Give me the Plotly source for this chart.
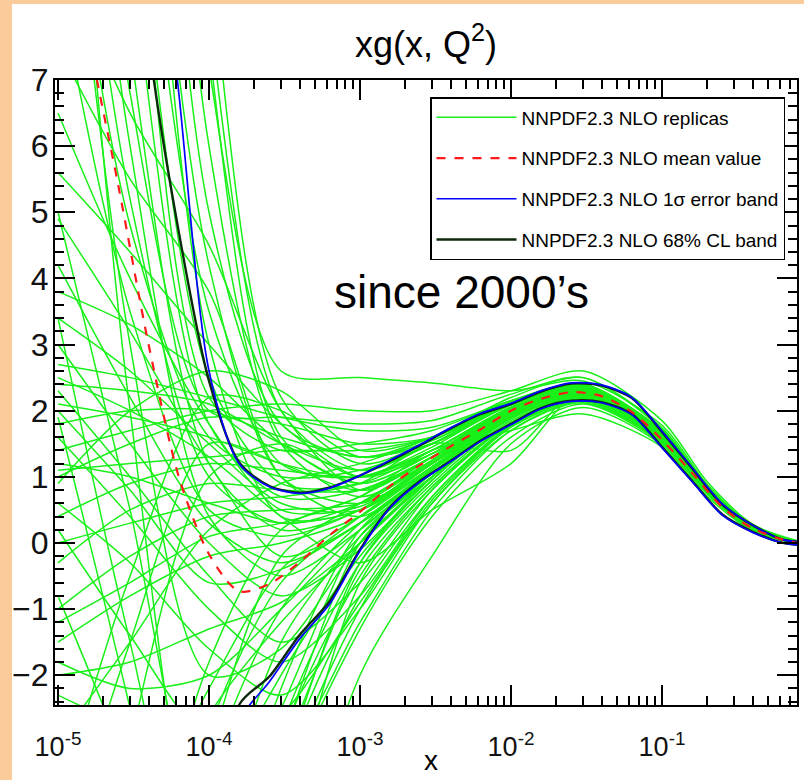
import plotly.graph_objects as go

# ---------------- data ----------------
# x grid for central curves
x_grid = [1.0e-5, 1.58e-5, 2.51e-5, 3.98e-5, 6.31e-5, 1.0e-4, 1.58e-4, 2.51e-4, 3.98e-4, 6.31e-4,
          1.0e-3, 1.58e-3, 2.51e-3, 3.98e-3, 6.31e-3, 1.0e-2, 1.58e-2, 2.51e-2, 3.98e-2, 6.31e-2,
          0.1, 0.158, 0.251, 0.398, 0.631, 0.794]

mean_value = [10.5, 7.7, 5.4, 3.0, 1.0, -0.17, -0.73, -0.62, -0.29, 0.12,
              0.47, 0.86, 1.18, 1.46, 1.72, 2.0, 2.18, 2.28, 2.22, 1.98,
              1.56, 1.06, 0.54, 0.22, 0.05, 0.0]

cl68_upper = [30, 20, 13, 7.6, 4.7, 2.45, 1.22, 0.86, 0.76, 0.84,
              1.02, 1.24, 1.48, 1.73, 1.95, 2.10, 2.29, 2.41, 2.38, 2.19,
              1.68, 1.13, 0.58, 0.27, 0.05, 0.02]
cl68_lower = [-30, -24, -19, -14, -9.5, -5.0, -2.45, -2.02, -1.39, -0.88,
              -0.1, 0.54, 0.94, 1.24, 1.55, 1.80, 2.04, 2.15, 2.13, 1.95,
              1.45, 0.94, 0.43, 0.17, 0.0, -0.03]

sigma_upper = [40, 28, 18, 11, 6.8, 2.6, 1.2, 0.85, 0.75, 0.83,
               1.02, 1.25, 1.49, 1.74, 1.96, 2.11, 2.30, 2.42, 2.39, 2.20,
               1.69, 1.14, 0.59, 0.27, 0.05, 0.02]
sigma_lower = [-32, -26, -20, -15, -10, -5.5, -2.7, -2.1, -1.45, -0.92,
               -0.12, 0.53, 0.93, 1.23, 1.54, 1.79, 2.03, 2.14, 2.12, 1.94,
               1.44, 0.93, 0.42, 0.16, 0.0, -0.03]

# x grid for the replicas
x_rep = [1.0e-5, 3.0e-5, 1.0e-4, 3.0e-4, 1.0e-3, 3.0e-3, 1.0e-2, 3.0e-2, 0.1, 0.2, 0.4, 0.8]

replicas = [
    [40, 22, 7.2, 2.6, 2.5, 2.42, 2.3, 2.45, 1.78, 0.88, 0.26, 0.02],
    [25, 12, 3.5, 1.2, 1.0, 1.45, 2.1, 2.35, 1.62, 0.8, 0.22, 0.0],
    [20, 9, 1.8, 0.7, 0.8, 1.3, 2.05, 2.3, 1.6, 0.78, 0.22, 0.0],
    [35, 18, 5.0, 1.8, 1.3, 1.6, 2.15, 2.4, 1.7, 0.85, 0.25, 0.01],
    [18, 7.5, 1.2, 0.2, 0.5, 1.25, 2.0, 2.25, 1.55, 0.76, 0.21, 0.0],
    [28, 14, 4.2, 1.0, 0.6, 1.2, 1.95, 2.3, 1.6, 0.8, 0.23, 0.0],
    [15, 6.0, 0.4, -0.5, 0.2, 1.1, 1.9, 2.2, 1.55, 0.78, 0.22, 0.0],
    [45, 24, 8.0, 2.0, 1.1, 1.5, 2.1, 2.35, 1.65, 0.82, 0.24, 0.01],
    [22, 10.5, 2.5, 0.9, 0.9, 1.4, 2.05, 2.32, 1.62, 0.8, 0.22, 0.0],
    [16, 6.8, 2.0, 1.9, 1.8, 1.85, 2.25, 2.5, 1.72, 0.85, 0.26, 0.02],
    [13, 5.2, 1.0, 0.3, 0.6, 1.3, 2.0, 2.28, 1.58, 0.77, 0.21, -0.01],
    [32, 15, 3.0, 0.4, 0.5, 1.2, 1.98, 2.26, 1.58, 0.78, 0.22, 0.0],
    [24, 11, 2.2, 1.4, 1.5, 1.7, 2.15, 2.4, 1.68, 0.84, 0.24, 0.01],
    [11, 4.8, 1.6, 1.0, 1.1, 1.5, 2.1, 2.35, 1.63, 0.8, 0.23, 0.0],
    [38, 20, 6.0, 1.5, 0.7, 1.25, 2.0, 2.28, 1.6, 0.79, 0.22, 0.0],
    [8.5, 3.5, 0.5, 0.1, 0.5, 1.2, 1.97, 2.26, 1.57, 0.77, 0.21, 0.0],
    [50, 28, 9.0, 2.2, 1.2, 1.55, 2.12, 2.38, 1.66, 0.83, 0.24, 0.01],
    [42, 25, 7.5, 1.6, 0.9, 1.35, 2.04, 2.3, 1.6, 0.79, 0.22, 0.0],
    [-30, -18, -7, -2.8, -0.3, 0.9, 1.85, 2.2, 1.55, 0.76, 0.21, -0.01],
    [-25, -14, -5, -1.5, 0.1, 1.0, 1.9, 2.22, 1.56, 0.77, 0.21, 0.0],
    [-40, -22, -9, -3.5, -0.8, 0.7, 1.75, 2.15, 1.52, 0.75, 0.2, -0.01],
    [-18, -10, -3.5, -1.0, 0.3, 1.1, 1.95, 2.25, 1.58, 0.77, 0.22, 0.0],
    [-50, -28, -11, -4.0, -1.3, 0.4, 1.6, 2.1, 1.5, 0.74, 0.2, -0.02],
    [-12, -7, -2.8, -0.6, 0.4, 1.15, 1.95, 2.24, 1.57, 0.77, 0.22, 0.0],
    [-35, -20, -8, -3.0, -0.5, 0.85, 1.8, 2.18, 1.54, 0.76, 0.21, -0.01],
    [-22, -12, -4.2, -2.0, -0.2, 0.95, 1.88, 2.22, 1.57, 0.77, 0.22, 0.0],
    [-8, -5, -2.6, -1.2, 0.0, 1.0, 1.9, 2.23, 1.56, 0.76, 0.21, 0.0],
    [-45, -25, -10, -3.8, -1.0, 0.6, 1.7, 2.12, 1.51, 0.75, 0.2, -0.01],
    [-15, -9, -3.2, -0.2, 0.6, 1.25, 2.0, 2.27, 1.59, 0.78, 0.22, 0.0],
    [-28, -16, -6, -2.2, 0.2, 1.05, 1.92, 2.24, 1.57, 0.77, 0.22, 0.0],
    [-60, -35, -15, -6, -2.0, -0.2, 1.5, 2.05, 1.48, 0.74, 0.2, -0.02],
    [5.6, 4.4, 3.0, 1.8, 1.0, 1.35, 2.0, 2.3, 1.6, 0.78, 0.22, 0.0],
    [3.4, 2.6, 1.5, 0.6, 0.5, 1.2, 1.98, 2.27, 1.58, 0.77, 0.22, 0.0],
    [3.0, 1.5, 0.0, -0.8, -0.1, 1.0, 1.9, 2.22, 1.56, 0.77, 0.21, 0.0],
    [2.7, 2.5, 2.2, 1.9, 1.7, 1.75, 2.15, 2.4, 1.68, 0.83, 0.24, 0.01],
    [2.3, 1.0, -0.5, -1.5, -0.6, 0.8, 1.82, 2.2, 1.55, 0.76, 0.21, 0.0],
    [2.1, 1.9, 1.6, 1.2, 1.0, 1.4, 2.05, 2.32, 1.6, 0.79, 0.22, 0.0],
    [1.6, 0.4, -1.0, -1.8, -0.8, 0.7, 1.78, 2.18, 1.54, 0.76, 0.21, -0.01],
    [1.2, 1.0, 0.6, 0.3, 0.5, 1.2, 1.98, 2.28, 1.58, 0.78, 0.22, 0.0],
    [1.0, 1.5, 1.9, 1.8, 1.5, 1.6, 2.1, 2.35, 1.64, 0.81, 0.23, 0.0],
    [0.6, -0.3, -1.6, -2.3, -1.0, 0.6, 1.75, 2.16, 1.53, 0.75, 0.2, -0.01],
    [-0.3, 0.5, 0.9, 0.8, 0.8, 1.3, 2.0, 2.28, 1.59, 0.78, 0.22, 0.0],
    [-1.0, -0.2, 0.4, 0.5, 0.6, 1.25, 2.0, 2.27, 1.58, 0.78, 0.22, 0.0],
    [-1.5, -0.8, -0.2, 0.0, 0.4, 1.15, 1.95, 2.25, 1.57, 0.77, 0.21, 0.0],
    [-2.0, -1.8, -1.3, -0.9, 0.0, 1.0, 1.9, 2.23, 1.56, 0.76, 0.21, 0.0],
    [4.9, 3.2, 1.2, -0.2, 0.3, 1.1, 1.95, 2.25, 1.57, 0.77, 0.21, 0.0],
    [-2.3, -2.8, -3.2, -2.6, -0.9, 0.65, 1.76, 2.17, 1.53, 0.75, 0.2, -0.01],
    [3.8, 3.3, 2.5, 1.5, 0.9, 1.35, 2.02, 2.3, 1.6, 0.79, 0.22, 0.0],
    [0.2, -1.4, -3.0, -3.2, -1.2, 0.5, 1.7, 2.14, 1.52, 0.75, 0.2, -0.01],
    [6.5, 4.0, 1.8, 0.5, 0.55, 1.22, 1.98, 2.27, 1.58, 0.78, 0.22, 0.0],
    [1.8, 2.0, 2.0, 1.6, 1.3, 1.5, 2.08, 2.34, 1.62, 0.8, 0.23, 0.0],
    [2.5, 2.0, 1.3, 0.4, -0.3, 0.5, 1.2, 2.3, 1.62, 0.8, 0.22, 0.0],
    [0.0, 0.3, 0.6, 0.7, 0.9, 1.5, 1.4, 2.35, 1.6, 0.78, 0.22, 0.0],
    [-1.2, -0.6, 0.1, 0.3, 0.7, 1.4, 1.7, 1.95, 1.45, 0.7, 0.18, -0.02],
    [1.4, 1.7, 2.0, 2.1, 2.0, 2.0, 2.3, 2.6, 1.85, 0.92, 0.28, 0.03],
    [-3.0, -1.5, 0.2, 0.9, 1.2, 1.6, 2.2, 2.5, 1.74, 0.86, 0.25, 0.01],
    [3.4, -1.5, -6.0, -3.0, 0.0, 1.05, 1.92, 2.24, 1.57, 0.77, 0.21, 0.0],
    [1.9, -2.5, -8.0, -4.5, -0.6, 0.8, 1.8, 2.2, 1.55, 0.76, 0.21, 0.0],
    [-0.8, -3.5, -7.0, -3.5, -0.3, 0.95, 1.88, 2.22, 1.56, 0.77, 0.21, 0.0],
    [5.0, 0.5, -4.5, -2.5, 0.1, 1.0, 1.9, 2.23, 1.56, 0.77, 0.21, 0.0],
    [-5.0, -1.5, 1.5, 1.2, 0.8, 1.3, 2.0, 2.28, 1.58, 0.78, 0.22, 0.0],
    [-8.0, -3.0, 1.0, 1.5, 1.0, 1.4, 2.05, 2.3, 1.6, 0.79, 0.22, 0.0],
    [-4.0, -0.5, 2.2, 2.0, 1.3, 1.55, 2.1, 2.36, 1.64, 0.81, 0.23, 0.0],
    [9.0, 6.5, 4.5, 2.0, 0.8, 1.3, 2.0, 2.28, 1.59, 0.78, 0.22, 0.0],
    [7.5, 5.5, 3.8, 1.0, 0.4, 1.15, 1.95, 2.25, 1.57, 0.77, 0.21, 0.0],
    [12, 3.0, -2.0, -1.6, 0.0, 1.0, 1.9, 2.22, 1.56, 0.77, 0.21, 0.0],
    [14, 2.0, -5.0, -3.2, -0.4, 0.85, 1.82, 2.2, 1.55, 0.76, 0.21, 0.0],
    [0.9, 2.0, 2.6, 2.3, 1.4, 1.6, 2.1, 2.36, 1.64, 0.81, 0.23, 0.0],
    [2.0, 0.8, -0.6, -0.4, 0.3, 1.1, 1.94, 2.24, 1.57, 0.77, 0.21, 0.0],
    [-1.8, -2.2, -2.0, -1.0, 0.2, 1.05, 1.92, 2.23, 1.57, 0.77, 0.21, 0.0],
    [4.2, 2.2, 0.3, -0.3, 0.3, 1.12, 1.95, 2.25, 1.57, 0.77, 0.21, 0.0],
    [-6, -4.5, -2.2, -0.4, 0.4, 1.15, 1.96, 2.25, 1.57, 0.77, 0.22, 0.0],
    [-10, -6, -1.8, 0.2, 0.7, 1.3, 2.0, 2.28, 1.59, 0.78, 0.22, 0.0],
    [1.1, 1.2, 1.3, 1.4, 1.4, 1.6, 2.12, 2.38, 1.66, 0.82, 0.23, 0.01],
    [0.4, 0.9, 1.2, 1.1, 1.0, 1.4, 2.02, 2.3, 1.6, 0.79, 0.22, 0.0],
    [2.4, 2.3, 2.1, 1.5, 1.1, 1.5, 2.1, 2.34, 1.63, 0.8, 0.23, 0.0],
]

x_tick_vals = [1e-5, 1e-4, 1e-3, 1e-2, 1e-1]
x_tick_text = ["10<sup>-5</sup>", "10<sup>-4</sup>", "10<sup>-3</sup>", "10<sup>-2</sup>", "10<sup>-1</sup>"]
y_tick_vals = [-2, -1, 0, 1, 2, 3, 4, 5, 6, 7]
minor_digits = [2, 3, 4, 5, 6, 7, 8, 9]

legend_names = ["NNPDF2.3 NLO replicas", "NNPDF2.3 NLO mean value",
                "NNPDF2.3 NLO 1σ error band", "NNPDF2.3 NLO 68% CL band"]

# ---------------- figure ----------------
FONT = "Liberation Sans, Arial, sans-serif"
GREEN = "#19f019"

fig = go.Figure()

for i, ys in enumerate(replicas):
    fig.add_trace(go.Scatter(
        x=x_rep, y=ys, mode="lines",
        line=dict(color=GREEN, width=1.5, shape="spline", smoothing=0.8),
        name=legend_names[0], legendgroup="rep", legendrank=1,
        showlegend=(i == 0), hoverinfo="skip"))

for ys, show in [(cl68_upper, True), (cl68_lower, False)]:
    fig.add_trace(go.Scatter(
        x=x_grid, y=ys, mode="lines",
        line=dict(color="#0b2a0b", width=2.4, shape="spline", smoothing=0.8),
        name=legend_names[3], legendgroup="cl", legendrank=4, showlegend=show))

for ys, show in [(sigma_upper, True), (sigma_lower, False)]:
    fig.add_trace(go.Scatter(
        x=x_grid, y=ys, mode="lines",
        line=dict(color="#0000ff", width=1.7, shape="spline", smoothing=0.8),
        name=legend_names[2], legendgroup="sig", legendrank=3, showlegend=show))

fig.add_trace(go.Scatter(
    x=x_grid, y=mean_value, mode="lines",
    line=dict(color="#ff1a1a", width=2.2, dash="dash", shape="spline", smoothing=0.8),
    name=legend_names[1], legendgroup="mean", legendrank=2))

W, H = 804, 780
ML, MR, MT, MB = 55, 7, 80, 75
pw, ph = W - ML - MR, H - MT - MB

def px_to_paper_x(px):
    return (px - ML) / pw

def px_to_paper_y(py):
    return (H - MB - py) / ph

fig.add_shape(type="rect", xref="paper", yref="paper",
              x0=px_to_paper_x(12), x1=px_to_paper_x(810),
              y0=px_to_paper_y(790), y1=px_to_paper_y(4),
              fillcolor="white", line=dict(width=0), layer="below")

fig.add_annotation(text="since 2000’s", xref="paper", yref="paper",
                   x=px_to_paper_x(462), y=px_to_paper_y(292),
                   xanchor="center", yanchor="middle",
                   showarrow=False, font=dict(family=FONT, size=46, color="black"))

fig.add_annotation(text="x", xref="paper", yref="paper",
                   x=px_to_paper_x(431), y=px_to_paper_y(760),
                   xanchor="center", yanchor="middle",
                   showarrow=False, font=dict(family=FONT, size=28, color="black"))

minor_x = [d * v for v in x_tick_vals for d in minor_digits]

fig.update_layout(
    width=W, height=H,
    margin=dict(l=ML, r=MR, t=MT, b=MB, autoexpand=False),
    paper_bgcolor="#fbcb9c",
    plot_bgcolor="white",
    title=dict(text="xg(x, Q<sup>2</sup>)", x=0.5, xref="paper", y=1 - 44 / H, yanchor="middle",
               font=dict(family=FONT, size=36, color="black")),
    legend=dict(x=px_to_paper_x(430), y=px_to_paper_y(97), xanchor="left", yanchor="top",
                bgcolor="white", bordercolor="black", borderwidth=1.5,
                font=dict(family=FONT, size=19, color="black"),
                traceorder="grouped", tracegroupgap=13, itemwidth=80),
    showlegend=True,
)

fig.update_xaxes(
    type="log", range=[-5.02, -0.106], automargin=False,
    tickmode="array", tickvals=x_tick_vals, ticktext=x_tick_text,
    ticks="inside", ticklen=20, tickwidth=2, tickcolor="black",
    showline=True, linewidth=2, linecolor="black", mirror="ticks",
    showgrid=False, zeroline=False, ticklabelstandoff=17,
    tickfont=dict(family=FONT, size=27, color="#111"),
    minor=dict(tickmode="array", tickvals=minor_x, ticks="inside", ticklen=9,
               tickwidth=2, tickcolor="black", showgrid=False),
)

fig.update_yaxes(
    range=[-2.45, 7.0], automargin=False,
    tickmode="array", tickvals=y_tick_vals,
    ticks="inside", ticklen=20, tickwidth=2, tickcolor="black",
    showline=True, linewidth=2, linecolor="black", mirror="ticks",
    showgrid=False, zeroline=False, ticklabelstandoff=-2,
    tickfont=dict(family=FONT, size=32, color="#111"),
    minor=dict(dtick=0.2, ticks="inside", ticklen=9, tickwidth=2,
               tickcolor="black", showgrid=False),
)

fig.write_html("out.html", config={"displayModeBar": False},
               post_script="document.body.style.margin='0px';")
